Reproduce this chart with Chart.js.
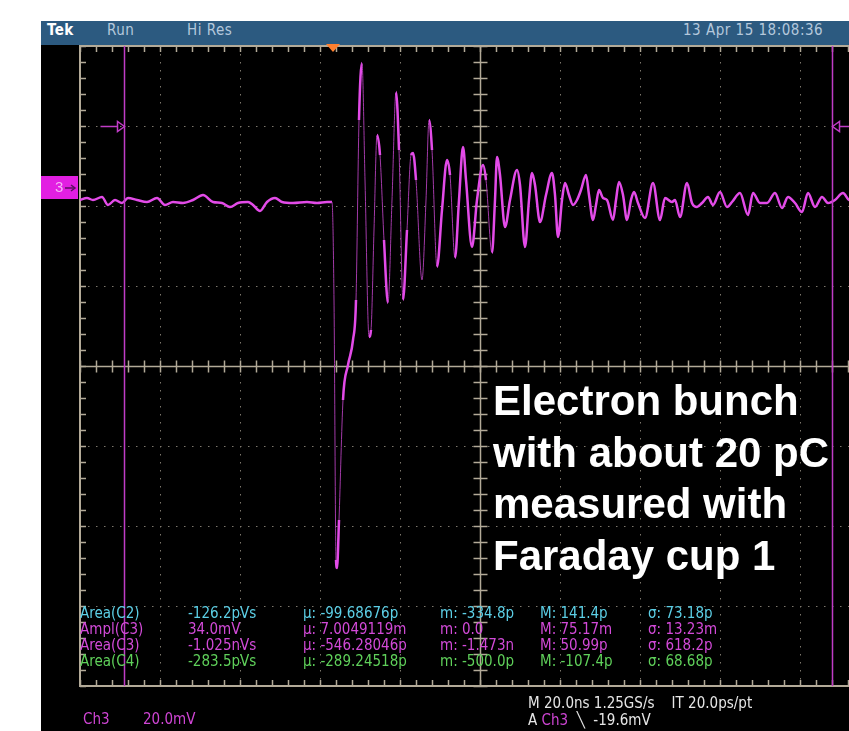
<!DOCTYPE html>
<html>
<head>
<meta charset="utf-8">
<script src="https://cdn.jsdelivr.net/npm/chart.js@4.4.1/dist/chart.umd.min.js"></script>
<style>
  html, body { margin: 0; padding: 0; width: 849px; height: 731px; overflow: hidden; background: #fff; }
  #screen { position: absolute; left: 41px; top: 21px; width: 900px; height: 720px; background: #000; }
  #header { position: absolute; left: 41px; top: 21px; width: 900px; height: 24px; background: #2c5a80; }
  .hdr { position: absolute; top: 21px; height: 24px; line-height: 24px; font: 15px "Liberation Sans Narrow", "DejaVu Sans Condensed", sans-serif; color: #b4c8dc; letter-spacing: 0.5px; }
  #scope { position: absolute; left: 0; top: 0; }
  .meas { position: absolute; font: 15px "Liberation Sans Narrow", "DejaVu Sans Condensed", sans-serif; white-space: pre; line-height: 16px; }
  .note { position: absolute; left: 493px; top: 375px; font: bold 42px "Liberation Sans", Arial, sans-serif; color: #fff; line-height: 51.5px; white-space: pre; }
</style>
</head>
<body>
<div id="screen"></div>
<div id="header"></div>
<div class="hdr" style="left:47px;color:#fff;font-weight:bold;">Tek</div>
<div class="hdr" style="left:107px;">Run</div>
<div class="hdr" style="left:187px;">Hi Res</div>
<div class="hdr" style="left:683px;">13 Apr 15 18:08:36</div>
<canvas id="scope" width="900" height="731"></canvas>
<div id="readout"></div>
<div class="note">Electron bunch
with about 20 pC
measured with
Faraday cup 1</div>
<script>
// Ch3 trace, time from left graticule edge (ns, 20 ns/div) and level vs. ground marker (mV, 20 mV/div)
const traceTimeNs = [
  0, 1.75, 3.25, 5.5, 7, 8.75, 10.5, 12, 14.25, 16.75, 19.25, 21.25, 23.25, 25.75, 28.25, 30.75,
  33.25, 35.5, 37.5, 39.5, 42, 43.25, 45, 46.75, 48.75, 50.5, 53.25, 56.75, 59.25, 61.75, 63,
  63.5, 64, 64.25, 64.75, 65.75, 67, 68.25, 69, 69.75, 70.5, 71.25, 72.25, 72.75, 73.5, 74.25,
  75, 76, 77, 78, 79, 79.75, 80.75, 81.75, 82.75, 83.25, 84, 85.5, 86.5, 87.25, 88, 89.25,
  90.5, 91.75, 92.5, 93.75, 94.75, 95.75, 96.5, 98, 99.25, 100.75, 101.5, 103, 103.75, 104.25,
  105, 106.25, 107.5, 109.25, 110, 111.25, 112.25, 113, 113.75, 115, 116.5, 118, 118.75, 119.5,
  120.5, 121.25, 122.25, 123.25, 124.25, 125.25, 126.5, 127.25, 128.25, 129, 129.75, 130.75,
  131.75, 133.25, 134, 134.75, 135.75, 136.75, 137.75, 138.5, 139.5, 141.25, 143.25, 145,
  146.25, 148, 148.75, 150, 151.75, 153, 154.25, 155.5, 157, 158.25, 160, 161.75, 163, 165,
  167, 168.25, 170, 171.75, 173.75, 175.5, 177, 178.75, 180.5, 182, 183.75, 185.5, 187,
  188.75, 190.75, 192.25, 195, 197.5, 200,
];
const traceMv = [
  -3, -2.5, -3, -2.25, -4.25, -3, -3.75, -2.5, -3, -3.5, -2.5, -4.25, -3.5, -3.75, -3, -1.75,
  -3.5, -3.75, -4.75, -3.75, -3.5, -4.25, -5.75, -3.5, -2.5, -3.5, -3.75, -3.5, -3.75, -3.5, -3.5,
  -28, -93, -95, -83, -53, -44.25, -38, -28, 17, 31.25, 2, -37.25, -35.5, -10.5, 13.25,
  8.25, -13, -28.75, -3, 24, 9.5, -28, -10.5, 8.25, 8.75, 2, -23, -3, 17, 9.5, -19.75,
  -5.5, 7, 3.25, -17.5, -3, 10.25, 2, -14.75, -3, 5.75, 2, -16.25, -3, 7.75,
  3.25, -9.75, -3, 4.5, 0.75, -14.75, -3, 3.75, 0.75, -8.5, -1.75, 3.75, -1.75, -12.25,
  -3, 1.25, -1.75, -4.25, -3, -0.5, 3.25, -1.75, -8, -4.25, -0.5, -2.5,
  -3, -8, -3, 1.5, -1.75, -8, -3, -1, -3.75, -7.5, 1.25, -8,
  -2.5, -3.5, -3, -7.25, 1.25, -3.75, -4.75, -3.75, -2.25, -4.25, -1, -4.75, -3.5, -1.25,
  -6.75, -1.25, -3.75, -3.75, -1.25, -5, -2.25, -3.75, -6, -1.25, -4.75, -2.25, -3.75,
  -3, -1.25, -3, -3.5, -2, -3,
];

const screenTimeNs = [0, 200];
const screenMv = [-124.5, 35.5];
const divisionTimesNs = [20, 40, 60, 80, 100, 120, 140, 160, 180];
const divisionLevelsMv = [-104.5, -84.5, -64.5, -44.5, -24.5, -4.5, 15.5];
const centerTimeNs = 100;
const centerLevelMv = -44.5;
const minorStep = 4;

const cursorTimesNs = [11, 188];
const cursorRefMv = 15.5;
const triggerTimeNs = 63.25;
const groundMv = 0;

const measLabels = ["Area(C2)", "Ampl(C3)", "Area(C3)", "Area(C4)"];
const measValues = ["-126.2pVs", "34.0mV", "-1.025nVs", "-283.5pVs"];
const measMean = ["µ: -99.68676p", "µ: 7.0049119m", "µ: -546.28046p", "µ: -289.24518p"];
const measMin = ["m: -334.8p", "m: 0.0", "m: -1.473n", "m: -500.0p"];
const measMax = ["M: 141.4p", "M: 75.17m", "M: 50.99p", "M: -107.4p"];
const measSigma = ["σ: 73.18p", "σ: 13.23m", "σ: 618.2p", "σ: 68.68p"];
const measColors = ["#5ccfe6", "#d24ad8", "#d24ad8", "#5fd05a"];

const GRAT = "#b3aa98";
const DOTS = "#7c776c";
const TRACE = "#e34be8";
const TRACE_EDGE = "#a23aa8";

function strokeLine(ctx, x1, y1, x2, y2) {
  ctx.beginPath();
  ctx.moveTo(x1, y1);
  ctx.lineTo(x2, y2);
  ctx.stroke();
}

function isSteep(seg) {
  const dx = Math.abs(seg.p1.x - seg.p0.x);
  const dy = Math.abs(seg.p1.y - seg.p0.y);
  return dy > 70 && dy > 10 * dx;
}

const graticulePlugin = {
  id: "graticule",
  beforeDatasetsDraw(chart) {
    const { ctx, chartArea: a } = chart;
    const x = chart.scales.x;
    const y = chart.scales.y;
    ctx.save();

    ctx.strokeStyle = DOTS;
    ctx.lineWidth = 1;
    ctx.setLineDash([1.5, 6.5]);
    divisionTimesNs.forEach((t) => {
      const px = Math.round(x.getPixelForValue(t)) + 0.5;
      strokeLine(ctx, px, a.top, px, a.bottom);
    });
    divisionLevelsMv.forEach((v) => {
      const py = Math.round(y.getPixelForValue(v)) + 0.5;
      strokeLine(ctx, a.left, py, a.right, py);
    });
    ctx.setLineDash([]);

    ctx.strokeStyle = GRAT;
    ctx.lineWidth = 2;
    ctx.strokeRect(a.left, a.top, a.right - a.left, a.bottom - a.top);

    const cx = Math.round(x.getPixelForValue(centerTimeNs)) + 0.5;
    const cy = Math.round(y.getPixelForValue(centerLevelMv)) + 0.5;
    ctx.lineWidth = 1.5;
    strokeLine(ctx, cx, a.top, cx, a.bottom);
    strokeLine(ctx, a.left, cy, a.right, cy);

    for (let t = screenTimeNs[0]; t <= screenTimeNs[1]; t += minorStep) {
      const px = Math.round(x.getPixelForValue(t)) + 0.5;
      strokeLine(ctx, px, a.top, px, a.top + 6);
      strokeLine(ctx, px, a.bottom - 6, px, a.bottom);
      strokeLine(ctx, px, cy - 6, px, cy + 6);
    }
    for (let v = screenMv[0]; v <= screenMv[1]; v += minorStep) {
      const py = Math.round(y.getPixelForValue(v)) + 0.5;
      strokeLine(ctx, a.left, py, a.left + 6, py);
      strokeLine(ctx, cx - 7, py, cx + 7, py);
    }
    ctx.restore();
  },
};

const markersPlugin = {
  id: "markers",
  afterDatasetsDraw(chart) {
    const { ctx, chartArea: a } = chart;
    const x = chart.scales.x;
    const y = chart.scales.y;
    ctx.save();

    // cursors
    ctx.strokeStyle = "#c03cc6";
    ctx.lineWidth = 1.5;
    const ry = Math.round(y.getPixelForValue(cursorRefMv)) + 0.5;
    cursorTimesNs.forEach((t, i) => {
      const px = Math.round(x.getPixelForValue(t)) + 0.5;
      strokeLine(ctx, px, a.top, px, a.bottom);
      const dir = i === 0 ? -1 : 1;
      ctx.beginPath();
      ctx.moveTo(px, ry);
      ctx.lineTo(px + dir * 7, ry - 5);
      ctx.lineTo(px + dir * 7, ry + 5);
      ctx.closePath();
      ctx.stroke();
      strokeLine(ctx, px + dir * 7, ry, px + dir * 24, ry);
    });

    // trigger position
    const tx = x.getPixelForValue(triggerTimeNs);
    ctx.fillStyle = "#ff7f2e";
    ctx.beginPath();
    ctx.moveTo(tx - 7, a.top - 2);
    ctx.lineTo(tx + 7, a.top - 2);
    ctx.lineTo(tx, a.top + 6);
    ctx.closePath();
    ctx.fill();

    // ground marker
    const gy = y.getPixelForValue(groundMv);
    ctx.fillStyle = "#e21fe2";
    ctx.fillRect(41, gy - 12, a.left - 43, 23);
    ctx.fillStyle = "#f5b5f5";
    ctx.font = "15px 'Liberation Sans Narrow', sans-serif";
    ctx.textBaseline = "middle";
    ctx.fillText("3", 55, gy);
    ctx.strokeStyle = "#5a1060";
    ctx.lineWidth = 1.5;
    strokeLine(ctx, 65, gy, 74, gy);
    ctx.beginPath();
    ctx.moveTo(71, gy - 3);
    ctx.lineTo(75, gy);
    ctx.lineTo(71, gy + 3);
    ctx.stroke();
    ctx.restore();
  },
};

function renderReadout() {
  const columns = [
    { left: 80, rows: measLabels },
    { left: 188, rows: measValues },
    { left: 303, rows: measMean },
    { left: 440, rows: measMin },
    { left: 540, rows: measMax },
    { left: 648, rows: measSigma },
  ];
  const container = document.getElementById("readout");
  let html = "";
  columns.forEach((col) => {
    col.rows.forEach((text, row) => {
      html += `<div class="meas" style="left:${col.left}px;top:${605 + row * 16}px;color:${measColors[row]}">${text}</div>`;
    });
  });
  html += `<div class="meas" style="left:83px;top:711px;color:#cf45d4">Ch3</div>`;
  html += `<div class="meas" style="left:143px;top:711px;color:#cf45d4">20.0mV</div>`;
  html += `<div class="meas" style="left:528px;top:695px;color:#e6e6e6">M 20.0ns 1.25GS/s    IT 20.0ps/pt</div>`;
  html += `<div class="meas" style="left:528px;top:712px;color:#e6e6e6">A <span style="color:#cf45d4">Ch3</span>  \u2572  -19.6mV</div>`;
  container.innerHTML = html;
}

function renderScope() {
  new Chart(document.getElementById("scope"), {
    type: "line",
    data: {
      datasets: [
        {
          label: "Ch3",
          data: traceTimeNs.map((t, i) => ({ x: t, y: traceMv[i] })),
          borderColor: TRACE,
          borderWidth: 2.5,
          pointRadius: 0,
          cubicInterpolationMode: "monotone",
          segment: {
            borderColor: (seg) => (isSteep(seg) ? TRACE_EDGE : TRACE),
            borderWidth: (seg) => (isSteep(seg) ? 1 : 2.5),
          },
        },
      ],
    },
    options: {
      responsive: false,
      animation: false,
      layout: { padding: { left: 80, top: 46, right: 20, bottom: 45 } },
      plugins: { legend: { display: false }, tooltip: { enabled: false } },
      scales: {
        x: { type: "linear", display: false, min: screenTimeNs[0], max: screenTimeNs[1] },
        y: { type: "linear", display: false, min: screenMv[0], max: screenMv[1] },
      },
    },
    plugins: [graticulePlugin, markersPlugin],
  });
}

renderReadout();
renderScope();
</script>
</body>
</html>
